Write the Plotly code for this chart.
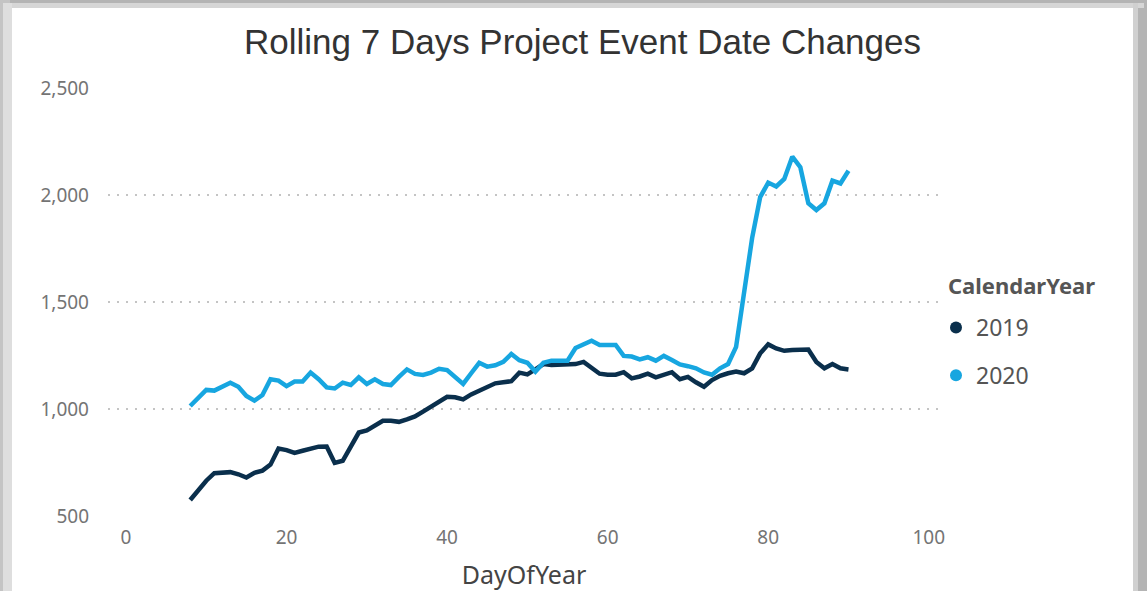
import plotly.graph_objects as go

days = list(range(8, 91))

y2019 = [575, 620, 665, 700, 702, 705, 695, 680, 702, 712,
         740, 815, 808, 795, 805, 815, 824, 825, 748, 758,
         820, 890, 900, 925, 945, 945, 940, 952, 965, 988,
         1010, 1035, 1057, 1055, 1045, 1068, 1085, 1105, 1120, 1125,
         1130, 1170, 1162, 1185, 1210, 1206, 1206, 1206, 1210, 1220,
         1190, 1165, 1160, 1160, 1172, 1143, 1152, 1165, 1148, 1160,
         1172, 1139, 1150, 1125, 1104, 1135, 1155, 1167, 1175, 1167,
         1190, 1260, 1302, 1283, 1272, 1276, 1278, 1278, 1220, 1190,
         1210, 1190, 1185]

y2020 = [1014, 1050, 1089, 1086, 1104, 1123, 1104, 1061, 1039, 1065,
         1139, 1133, 1107, 1128, 1128, 1170, 1139, 1101, 1096, 1123,
         1112, 1148, 1117, 1139, 1117, 1112, 1150, 1185, 1164, 1159,
         1170, 1188, 1182, 1150, 1117, 1167, 1216, 1198, 1204, 1220,
         1257, 1228, 1216, 1175, 1216, 1226, 1226, 1226, 1285, 1300,
         1319, 1299, 1299, 1299, 1248, 1245, 1232, 1242, 1226, 1248,
         1229, 1208, 1200, 1190, 1171, 1160, 1190, 1210, 1290, 1540,
         1800, 1990, 2058, 2040, 2075, 2179, 2130, 1961, 1930, 1961,
         2067, 2054, 2113]

series_names = ["2019", "2020"]
series_values = [y2019, y2020]
colors = ["#0a2f4c", "#17a6e0"]

x_ticks = [0, 20, 40, 60, 80, 100]
y_ticks = [500, 1000, 1500, 2000, 2500]
y_tick_labels = ["500", "1,000", "1,500", "2,000", "2,500"]

W, H = 1147, 591
L, R, T, B = 108, 940, 88, 516


def px(x):
    return (x - L) / (R - L)


def py(y):
    return (B - y) / (B - T)


fig = go.Figure()
for name, vals, col in zip(series_names, series_values, colors):
    fig.add_trace(go.Scatter(
        x=days, y=vals, mode="lines", name=name,
        line=dict(color=col, width=4.5), showlegend=False,
        legendgroup=name,
    ))
    fig.add_trace(go.Scatter(
        x=[None], y=[None], mode="markers", name=name,
        marker=dict(color=col, size=16, symbol="circle"),
        legendgroup=name, showlegend=True,
    ))

SANS = "Noto Sans, Open Sans, sans-serif"
tick_font = dict(family=SANS, size=19, color="#747474")

fig.update_layout(
    width=W, height=H,
    margin=dict(l=L, r=W - R, t=T, b=H - B, autoexpand=False),
    paper_bgcolor="white", plot_bgcolor="white",
    title=dict(
        text="Rolling 7 Days Project Event Date Changes",
        x=582.5 / W, xref="container", xanchor="center",
        y=1 - 42 / H, yref="container", yanchor="middle",
        font=dict(family="Liberation Sans, Arial, sans-serif",
                  size=35, color="#333333"),
    ),
    xaxis=dict(
        range=[-2.24, 101.4], tickvals=x_ticks, showgrid=False, zeroline=False,
        showline=False, ticks="", tickfont=tick_font, ticklabelstandoff=8,
        title=dict(text="DayOfYear", standoff=20,
                   font=dict(family=SANS, size=25, color="#444444")),
    ),
    yaxis=dict(
        range=[500, 2500], tickvals=y_ticks, ticktext=y_tick_labels,
        showgrid=True, gridcolor="#c4c4c4", gridwidth=1.8, griddash="2px,7px",
        zeroline=False, showline=False, ticks="", tickfont=tick_font,
        ticklabelstandoff=18,
    ),
    legend=dict(
        font=dict(family=SANS, size=23, color="#555555"),
        x=px(936), xanchor="left", y=py(306), yanchor="top",
        traceorder="grouped", tracegroupgap=15, itemsizing="constant",
        bgcolor="rgba(0,0,0,0)",
    ),
    showlegend=True,
)

fig.add_annotation(
    text="<b>CalendarYear</b>", xref="paper", yref="paper",
    x=px(946), xanchor="left", y=py(285), yanchor="middle",
    showarrow=False,
    font=dict(family=SANS, size=22, color="#555555"),
)

# Card frame / drop-shadow decoration
frame = [
    (0, 0, W, 6, "#b4b4b4"),
    (0, 0, 10, H, "#c4c4c4"),
    (W - 12, 0, W, H, "#b4b4b4"),
    (3, 3, W - 3, 8, "#d6d6d6"),
    (3, 3, 12, H, "#dedede"),
    (W - 14, 3, W - 9, H, "#d0d0d0"),
]
for x0, y0, x1, y1, c in frame:
    fig.add_shape(type="rect", xref="paper", yref="paper",
                  x0=px(x0), x1=px(x1), y0=py(y1), y1=py(y0),
                  fillcolor=c, line=dict(width=0), layer="above")

fig.write_html("out.html", config={"displayModeBar": False},
               post_script="document.body.style.margin='0';")
